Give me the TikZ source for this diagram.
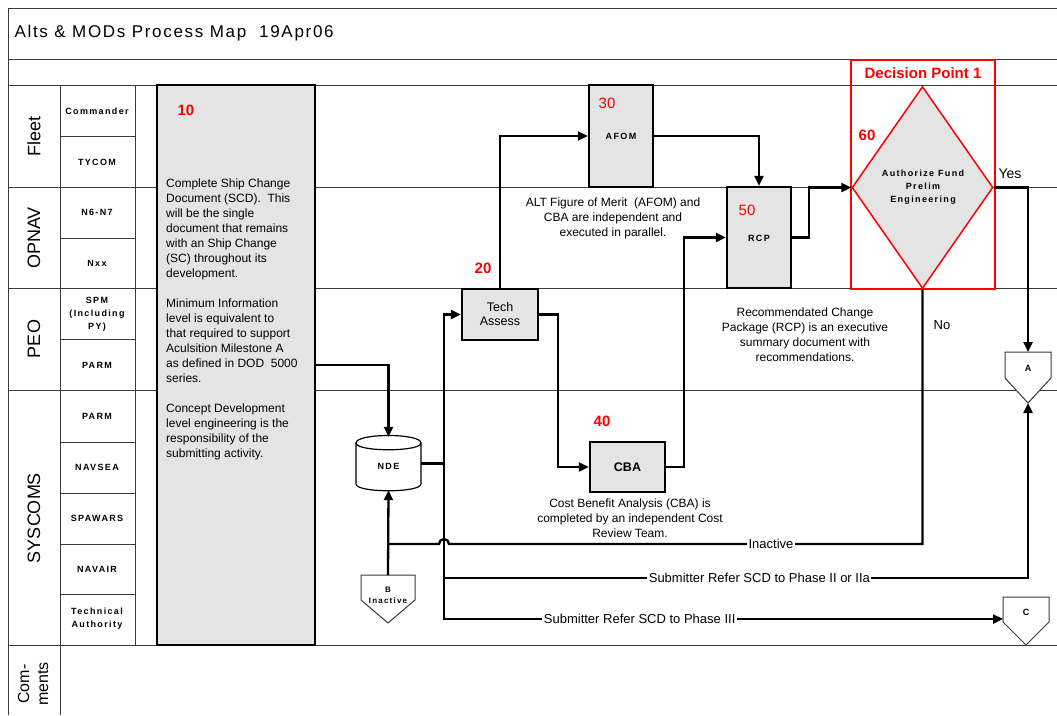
\documentclass[tikz,border=0pt]{standalone}
\usepackage{fontspec}
\setmainfont{Liberation Sans}
\newfontfamily\tagfont[LetterSpace=15]{Liberation Sans}
\newfontfamily\titlefont[LetterSpace=10]{Liberation Sans}
\usetikzlibrary{arrows.meta, shapes.geometric, calc}
\definecolor{cred}{HTML}{FF0000}
\definecolor{cgrid}{HTML}{3A3A3A}
\definecolor{cfill}{HTML}{E4E4E4}
\tikzset{
  grid/.style={draw=cgrid, line width=0.9pt},
  procbox/.style={draw, fill=cfill, line width=2.2pt, inner sep=0pt},
  flow/.style={-{Triangle[length=10pt, width=9pt]}, line width=2.3pt},
  link/.style={line width=2.3pt},
  lane/.style={rotate=90, align=center, font=\fontsize{18}{19}\selectfont},
  tag/.style={align=center, font=\tagfont\bfseries\fontsize{9}{13}\selectfont},
  stepno/.style={text=cred, font=\bfseries\fontsize{15}{17}\selectfont},
  note/.style={align=center, font=\fontsize{12}{15}\selectfont},
  linelabel/.style={fill=white, inner sep=1.5pt, font=\fontsize{13}{15}\selectfont},
  offpage/.style={draw=cgrid, fill=white, line width=1pt},
}

\begin{document}
\begin{tikzpicture}[x=1pt, y=-1pt]
  \useasboundingbox (0,0) rectangle (1057,715);
  % frame and swim lanes
  \draw[grid] (8,715) -- (8,8) -- (1057,8);
  \draw[grid] (8,59) -- (1057,59) (8,85) -- (1057,85) (8,187) -- (1057,187)
    (8,288) -- (1057,288) (8,390) -- (1057,390) (8,645) -- (1057,645);
  \draw[grid] (60,85) -- (60,715) (135,85) -- (135,645);
  \draw[grid] (60,136) -- (135,136) (60,238) -- (135,238) (60,339) -- (135,339)
    (60,442) -- (135,442) (60,493) -- (135,493) (60,544) -- (135,544) (60,594) -- (135,594);
  \node[anchor=west, font=\titlefont\fontsize{17}{20}\selectfont] (title) at (11,33) {Alts \& MODs Process Map~~19Apr06};

  \node[lane] (fleet) at (34,136) {Fleet};
  \node[lane] (opnav) at (34,238) {OPNAV};
  \node[lane] (peo) at (34,339) {PEO};
  \node[lane] (syscoms) at (34,518) {SYSCOMS};
  \node[lane, font=\fontsize{16}{19}\selectfont] (comments) at (33,684) {Com-\\ments};

  \node[tag] (commander) at (97,111) {Commander};
  \node[tag] (tycom) at (97,162) {TYCOM};
  \node[tag] (nsix) at (97,212) {N6-N7};
  \node[tag] (nxx) at (97,263) {Nxx};
  \node[tag] (spm) at (97,314) {SPM\\(Including\\PY)};
  \node[tag] (peoparm) at (97,365) {PARM};
  \node[tag] (sysparm) at (97,416) {PARM};
  \node[tag] (navsea) at (97,467) {NAVSEA};
  \node[tag] (spawars) at (97,518) {SPAWARS};
  \node[tag] (navair) at (97,569) {NAVAIR};
  \node[tag] (techauth) at (97,619) {Technical\\Authority};

  % decision point frame
  \node[draw=cred, line width=2.2pt, minimum width=144pt, minimum height=229pt, inner sep=0pt] (dpframe) at (923,174.5) {};
  \node[text=cred, font=\bfseries\fontsize{15}{17}\selectfont] (dptitle) at (923,73) {Decision Point 1};

  % steps
  \node[procbox, minimum width=158pt, minimum height=560pt] (scd) at (236,365) {};
  \node[stepno] (n10) at (186,110) {10};
  \node[note, align=left, anchor=north west, inner sep=0pt] (scdtext) at (166,179)
    {Complete Ship Change\\Document (SCD).~~This\\will be the single\\document that remains\\with an Ship Change\\(SC) throughout its\\development.\\[15pt]
     Minimum Information\\level is equivalent to\\that required to support\\Aculsition Milestone A\\as defined in DOD~~5000\\series.\\[15pt]
     Concept Development\\level engineering is the\\responsibility of the\\submitting activity.};

  \node[procbox, minimum width=76pt, minimum height=51pt, align=center, font=\fontsize{12.5}{14}\selectfont] (tech) at (500,314.5) {Tech\\Assess};
  \node[stepno] (n20) at (483,268) {20};
  \node[procbox, minimum width=64pt, minimum height=102pt] (afom) at (621,136) {};
  \node[tag] at (afom) {AFOM};
  \node[stepno, font=\fontsize{15}{17}\selectfont] (n30) at (607,103) {30};
  \node[procbox, minimum width=75pt, minimum height=50pt, font=\bfseries\fontsize{12.5}{14}\selectfont] (cba) at (627.5,467) {CBA};
  \node[stepno] (n40) at (602,421) {40};
  \node[procbox, minimum width=64pt, minimum height=101pt] (rcp) at (759,237.5) {};
  \node[tag] at ($(rcp)+(0,1)$) {RCP};
  \node[stepno, font=\fontsize{15}{17}\selectfont] (n50) at (747,210) {50};
  % NDE store, drawn as a cylinder
  \node[minimum width=65pt, minimum height=53pt, inner sep=0pt] (nde) at (388.5,463.5) {};
  \draw[line width=1.2pt, fill=white] (356,443) -- (356,484) .. controls (356,493) and (421,493) .. (421,484)
    -- (421,443) .. controls (421,433) and (356,433) .. (356,443) -- cycle;
  \draw[line width=1.2pt] (356,443) .. controls (356,452) and (421,452) .. (421,443);
  \node[tag] at ($(nde)+(0,3)$) {NDE};
  \node[diamond, draw=cred, fill=cfill, line width=1.5pt, inner sep=0pt, aspect=0.7,
    minimum width=141pt, minimum height=202pt] (dp) at (922.5,187.5) {};
  \node[tag] (dptext) at (923,187) {Authorize Fund\\Prelim\\Engineering};
  \node[stepno] (n60) at (867,135) {60};

  % notes
  \node[note] (afomnote) at (613,218) {ALT Figure of Merit~~(AFOM) and\\CBA are independent and\\executed in parallel.};
  \node[note] (cbanote) at (630,518) {Cost Benefit Analysis (CBA) is\\completed by an independent Cost\\Review Team.};
  \node[note] (rcpnote) at (805,335) {Recommendated Change\\Package (RCP) is an executive\\summary document with\\recommendations.};

  % off-page connectors
  \draw[offpage] (1005,352) -- (1051,352) -- (1051,378) -- (1028,403) -- (1005,378) -- cycle;
  \node[tag] (A) at (1028,368) {A};
  \coordinate (A-top) at (1028,352);
  \coordinate (A-tip) at (1028,403);
  \draw[offpage] (361,575) -- (415,575) -- (415,600) -- (388,623) -- (361,600) -- cycle;
  \node[tag, font=\tagfont\bfseries\fontsize{8}{11}\selectfont] (B) at (388,595) {B\\Inactive};
  \coordinate (B-top) at (388,575);
  \draw[offpage] (1003,597) -- (1049,597) -- (1049,622) -- (1026,645) -- (1003,622) -- cycle;
  \node[tag] (C) at (1026,612) {C};
  \coordinate (C-in) at (1003,619);

  % connectors
  \coordinate (bus) at (444,0);
  \draw[flow] (scd.east) -| (nde.north);
  \draw[flow] (nde.east) -| (tech.west -| bus) -- (tech.west);
  \draw[flow] (tech.north) |- (afom.west);
  \draw[flow] (afom.east) -| (rcp.north);
  \draw[flow] (tech.east) -- ++(19,0) |- (cba.west);
  \draw[flow] (cba.east) -- ++(18,0) |- (rcp.west);
  \draw[flow] (rcp.east) -- ++(17,0) |- (dp.west);
  \draw[flow] (dp.east) -| (A-top);
  \node[font=\fontsize{14}{16}\selectfont] (yes) at (1010,174) {Yes};
  \node[font=\fontsize{13}{15}\selectfont] (no) at (942,325) {No};
  \draw[link] (dp.south) |- node[linelabel, pos=0.66] {Inactive} ($(bus |- 0,544)+(5,0)$)
    arc[start angle=0, end angle=180, radius=5pt] -- (B-top |- 0,544);
  \draw[flow] (B-top) -- (nde.south);
  \draw[flow] (nde.east -| bus) |- node[linelabel, pos=0.675] {Submitter Refer SCD to Phase III} (C-in);
  \draw[flow] (bus |- 0,578) -| node[linelabel, pos=0.27] {Submitter Refer SCD to Phase II or IIa} (A-tip);
\end{tikzpicture}
\end{document}
